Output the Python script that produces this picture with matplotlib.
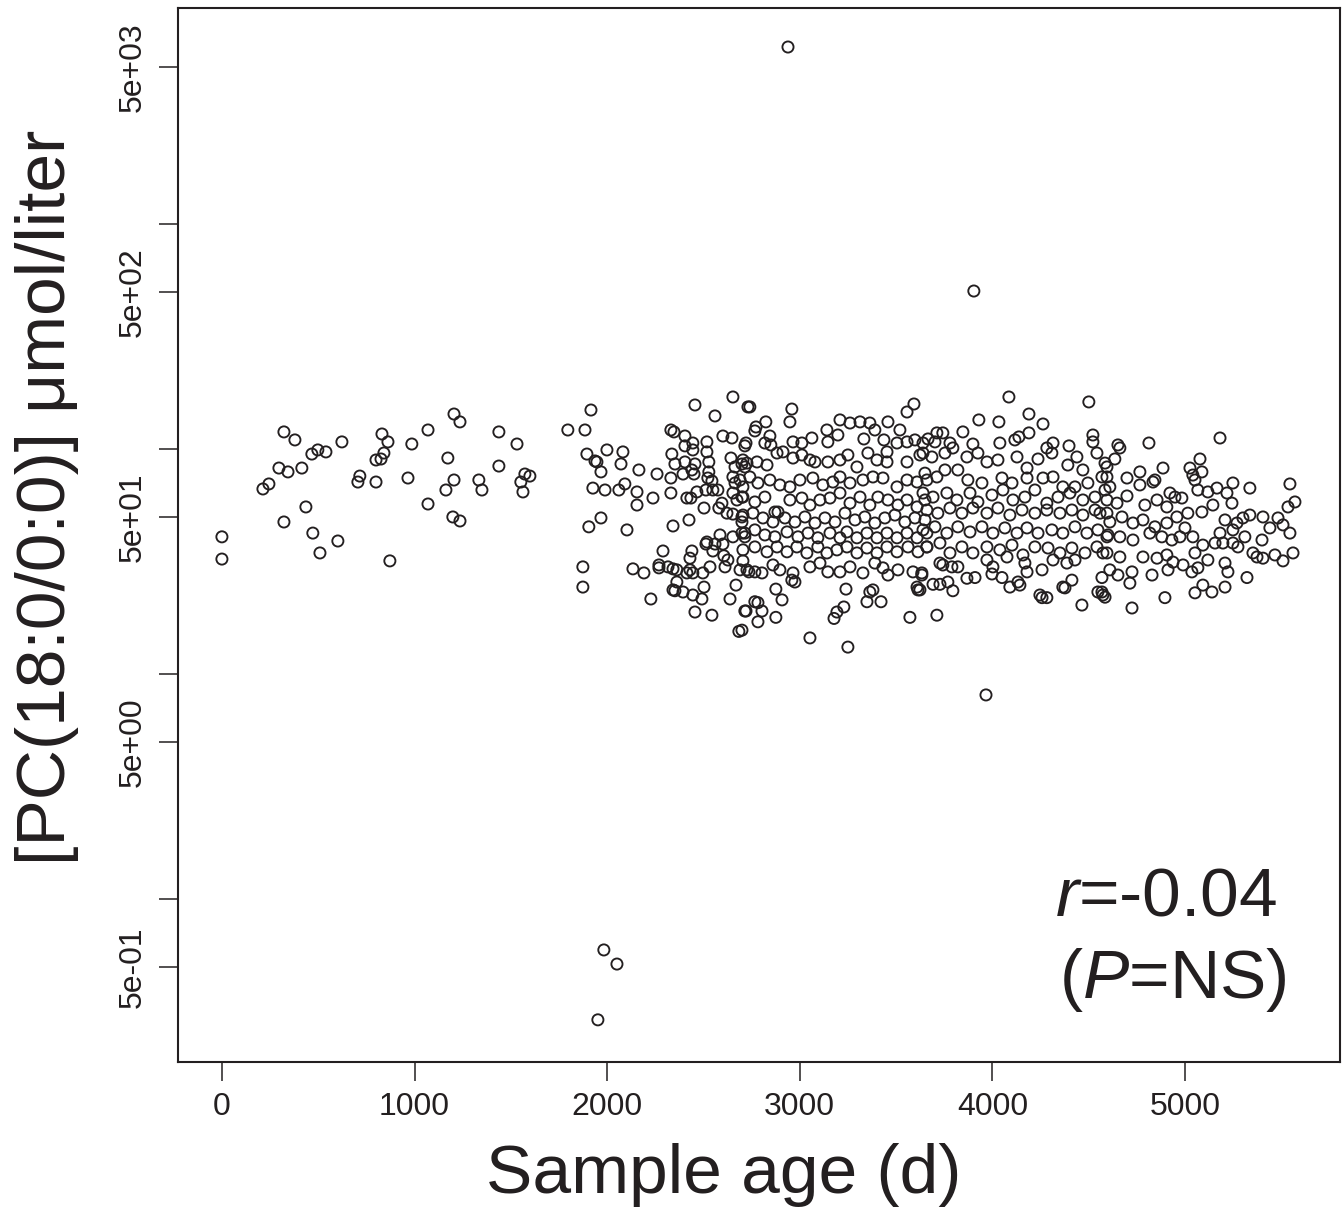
import matplotlib
matplotlib.use("Agg")
import matplotlib.pyplot as plt
import numpy as np

# sample age (days) and PC(18:0/0:0) concentration (umol/liter)
age_0_1800 = [
    0, 0, 213, 244, 296, 343, 322, 379, 322, 415,
    436, 467, 498, 540, 472, 509, 602, 623, 716, 706,
    800, 831, 862, 800, 826, 841, 872, 966, 986, 1070,
    1070, 1173, 1163, 1205, 1205, 1236, 1199, 1236, 1334, 1350,
    1438, 1438, 1532, 1573, 1599, 1552, 1563, 1796,
]
pc_0_1800 = [
    40.8, 32.5, 66.6, 70.1, 82.5, 79.3, 119.4, 110.0, 47.5, 82.5,
    55.4, 95.2, 99.3, 97.3, 42.4, 34.6, 39.1, 107.8, 76.0, 71.5,
    71.5, 116.9, 107.8, 89.6, 90.5, 96.2, 31.9, 74.5, 105.5, 121.8,
    57.1, 91.4, 65.9, 73.0, 143.4, 132.3, 50.0, 48.0, 73.0, 65.9,
    119.4, 84.2, 105.5, 77.6, 76.0, 71.5, 64.6, 121.8,
]

age_1800_2750 = [
    1916, 1885, 2456, 2560, 2653, 2731, 1895, 1937, 1947, 1968,
    1999, 2082, 2072, 2165, 2259, 1926, 1989, 2061, 2092, 2155,
    2155, 2238, 2331, 2331, 2336, 2331, 2347, 2404, 2404, 2445,
    2445, 2518, 2518, 2601, 2648, 2715, 2352, 2404, 2456, 2440,
    2394, 2451, 2528, 2528, 2523, 2544, 2549, 2575, 2513, 2466,
    2414, 2435, 2643, 2664, 2700, 2715, 2653, 2664, 2705, 2653,
    2700, 2674, 2596, 2580, 2622, 2653, 2705, 2700, 2503, 2425,
    2342, 1968, 1905, 2103, 2586, 2518, 2513, 2560, 2601, 2653,
    2700, 2715, 2290, 2440, 2430, 2549, 2606, 2627, 2612, 2705,
    2690, 2736, 1874, 1874, 2134, 2191, 2269, 2269, 2316, 2342,
    2362, 2414, 2430, 2445, 2497, 2534, 2362, 2342, 2352, 2394,
    2445, 2492, 2503, 2227, 2638, 2669, 2456, 2544, 2715, 2684,
]
pc_1800_2750 = [
    149.4, 121.8, 157.3, 140.6, 170.7, 154.2, 95.2, 88.7, 87.8, 79.3,
    99.3, 97.3, 86.0, 80.9, 77.6, 67.2, 65.9, 65.9, 70.1, 64.6,
    56.5, 60.7, 63.9, 74.5, 95.2, 121.8, 119.4, 114.5, 103.5, 106.6,
    99.3, 107.8, 97.3, 114.5, 112.2, 103.5, 86.0, 87.8, 86.0, 80.9,
    77.6, 77.6, 87.8, 79.3, 74.5, 72.3, 65.9, 65.9, 65.9, 64.6,
    60.7, 60.7, 91.4, 83.4, 86.0, 83.4, 75.3, 70.8, 68.0, 63.9,
    61.3, 59.5, 57.6, 54.8, 52.0, 51.5, 51.0, 47.5, 54.8, 48.5,
    45.6, 49.5, 45.2, 43.8, 41.6, 38.7, 37.9, 37.9, 37.9, 40.8,
    42.4, 40.8, 35.3, 35.3, 32.8, 35.3, 33.6, 32.2, 30.0, 31.9,
    29.1, 28.5, 30.0, 24.4, 29.4, 28.2, 30.6, 29.7, 30.0, 29.4,
    29.1, 28.2, 29.1, 28.2, 28.2, 30.0, 25.7, 23.7, 23.5, 23.2,
    22.5, 21.6, 24.4, 21.6, 21.6, 24.9, 18.9, 18.3, 19.1, 15.5,
]

age_2700_3700 = [
    2741, 2959, 2949, 2824, 2773, 2767, 2845, 2721, 2819, 2850,
    2965, 3011, 3063, 3141, 3146, 3198, 3209, 3261, 3313, 3364,
    3390, 3458, 3520, 3557, 3593, 3333, 3437, 3505, 3557, 3598,
    3640, 2705, 2726, 2778, 2830, 2882, 2913, 2965, 3011, 3053,
    3079, 3146, 3209, 3250, 3297, 3354, 3401, 3453, 3453, 3557,
    3624, 2690, 2741, 2783, 2845, 2897, 2949, 3001, 3068, 3120,
    3172, 3209, 3261, 3328, 3380, 3432, 3505, 3557, 3609, 3660,
    2705, 2767, 2819, 2871, 2887, 2949, 3011, 3053, 3105, 3157,
    3209, 3261, 3313, 3364, 3406, 3458, 3510, 3557, 3609, 3650,
    2700, 2757, 2809, 2861, 2923, 2975, 3027, 3079, 3131, 3183,
    3235, 3287, 3338, 3390, 3442, 3494, 3546, 3598, 3650, 2715,
    2767, 2819, 2871, 2934, 2991, 3043, 3094, 3157, 3209, 3245,
    3297, 3349, 3401, 3453, 3505, 3557, 3609, 3660, 2705, 2767,
    2830, 2882, 2934, 2985, 3037, 3094, 3141, 3193, 3245, 3297,
    3349, 3401, 3453, 3505, 3562, 3614, 3660, 2726, 2767, 2804,
    2861, 2897, 2965, 2959, 2975, 3053, 3105, 3146, 3209, 3261,
    3328, 3390, 3432, 3458, 3510, 3588, 3634, 2876, 2908, 2767,
    2783, 2721, 2804, 2783, 2876, 2700, 3053, 3250, 3240, 3229,
    3193, 3178, 3349, 3364, 3380, 3422, 3572, 3609, 3614,
]
pc_2700_3700 = [
    154.2, 150.9, 132.3, 132.3, 125.6, 120.6, 114.5, 106.6, 106.6, 104.5,
    107.8, 106.6, 112.2, 121.8, 107.8, 115.7, 135.0, 130.8, 132.3, 130.8,
    121.8, 132.3, 121.8, 146.4, 158.9, 111.1, 110.0, 106.6, 107.8, 110.0,
    106.6, 89.6, 86.8, 87.8, 85.1, 96.2, 97.3, 91.4, 94.3, 89.6,
    87.8, 87.8, 89.6, 94.3, 83.4, 96.2, 89.6, 97.3, 87.8, 87.8,
    94.3, 73.0, 75.3, 70.8, 73.0, 69.4, 68.0, 73.0, 74.5, 69.4,
    71.5, 75.3, 70.8, 73.0, 75.3, 74.5, 68.0, 73.0, 71.5, 73.0,
    61.3, 58.3, 61.3, 52.6, 52.6, 59.5, 60.7, 56.5, 59.5, 60.7,
    63.9, 57.6, 61.3, 56.5, 61.3, 59.5, 56.5, 59.5, 55.4, 59.5,
    50.0, 52.0, 49.5, 47.5, 49.5, 47.5, 50.0, 47.0, 49.5, 47.5,
    52.0, 48.5, 50.0, 47.0, 49.5, 51.0, 47.5, 49.5, 48.5, 42.4,
    43.8, 41.6, 40.8, 42.9, 40.8, 42.4, 40.4, 42.4, 40.4, 42.9,
    40.4, 42.4, 40.4, 42.4, 40.4, 42.4, 40.4, 42.4, 35.7, 36.8,
    35.0, 36.8, 35.0, 36.8, 34.6, 36.8, 34.6, 35.7, 36.8, 34.6,
    36.4, 34.6, 36.8, 35.0, 36.8, 35.0, 36.8, 29.1, 28.5, 28.2,
    30.6, 29.1, 28.2, 26.2, 25.7, 30.0, 31.2, 28.5, 28.5, 30.0,
    28.2, 31.2, 29.7, 27.6, 29.1, 28.5, 28.2, 23.9, 21.4, 21.0,
    20.8, 19.1, 19.1, 17.1, 17.9, 15.7, 14.5, 13.2, 23.9, 19.9,
    18.9, 17.7, 21.0, 23.2, 23.7, 21.0, 17.9, 24.4, 23.7,
]

age_3600_4600 = [
    4086, 4501, 3930, 4034, 4190, 4263, 3847, 3712, 3743, 3666,
    3702, 3780, 3795, 3899, 4039, 4117, 4138, 4190, 4315, 4283,
    4398, 4522, 4522, 4439, 3640, 3686, 3754, 3868, 3925, 3972,
    4029, 4128, 4180, 4237, 4309, 4392, 4470, 4543, 4595, 3650,
    3712, 3754, 3821, 3873, 3946, 4050, 4102, 4180, 4263, 4315,
    4366, 4429, 4496, 4569, 3640, 3692, 3764, 3816, 3884, 3925,
    3998, 4055, 4107, 4169, 4221, 4283, 4341, 4403, 4470, 4533,
    4585, 3660, 3717, 3780, 3842, 3899, 3972, 4029, 4091, 4154,
    4221, 4283, 4351, 4413, 4470, 4533, 4595, 3640, 3702, 3764,
    3821, 3884, 3946, 4003, 4065, 4128, 4180, 4237, 4309, 4366,
    4429, 4491, 4548, 4600, 3660, 3728, 3780, 3842, 3899, 3972,
    4039, 4102, 4159, 4221, 4289, 4351, 4413, 4481, 4543, 4595,
    3728, 3743, 3790, 3821, 3972, 4003, 4076, 4169, 4180, 4258,
    4315, 4387, 4429, 3634, 3692, 3728, 3769, 3795, 3868, 3910,
    3998, 4050, 4091, 4133, 4143, 4366, 4377, 4413, 4569, 4247,
    4258, 4283, 4465, 4548, 4574, 3712, 3624,
]
pc_3600_4600 = [
    170.7, 162.3, 135.0, 132.3, 143.4, 129.5, 119.4, 118.2, 118.2, 111.1,
    107.8, 106.6, 101.3, 105.5, 106.6, 110.0, 113.4, 118.2, 106.6, 101.3,
    103.5, 115.7, 107.8, 92.4, 96.2, 92.4, 96.2, 92.4, 96.2, 87.8,
    89.6, 92.4, 82.5, 90.5, 96.2, 85.1, 80.9, 96.2, 83.4, 78.3,
    75.3, 80.9, 80.9, 73.0, 70.8, 74.5, 70.8, 74.5, 74.5, 75.3,
    68.0, 68.0, 70.8, 75.3, 63.9, 61.3, 63.9, 59.5, 63.9, 58.3,
    62.6, 65.9, 59.5, 61.3, 65.9, 57.6, 61.3, 63.9, 59.5, 61.3,
    65.9, 53.7, 52.0, 54.8, 52.0, 54.8, 52.0, 54.8, 51.0, 53.7,
    52.0, 53.7, 52.0, 53.7, 51.0, 53.7, 52.0, 43.8, 45.2, 42.4,
    45.2, 42.9, 45.2, 42.4, 44.7, 42.4, 44.7, 42.4, 43.8, 42.4,
    45.2, 42.4, 43.8, 41.6, 36.8, 38.3, 34.6, 36.8, 34.6, 36.8,
    35.7, 37.5, 33.9, 36.8, 36.4, 34.6, 36.4, 34.6, 36.8, 34.6,
    31.2, 30.6, 30.0, 30.0, 32.2, 30.0, 33.2, 31.2, 28.5, 29.1,
    32.2, 31.2, 32.2, 27.6, 25.1, 25.1, 25.7, 23.5, 26.7, 26.9,
    27.9, 26.9, 24.4, 25.7, 24.9, 24.4, 24.2, 26.2, 26.9, 22.5,
    21.9, 21.9, 20.3, 23.2, 22.5, 18.3, 23.7,
]

age_4550_5600 = [
    5182, 4813, 4652, 4662, 4636, 4585, 5078, 4886, 4766, 5026,
    5088, 5041, 5052, 4844, 4834, 4699, 4595, 4610, 4766, 4699,
    4922, 4984, 5067, 5119, 5166, 5249, 5218, 5337, 5244, 5145,
    5088, 5015, 5545, 5535, 5571, 4595, 4647, 4792, 4855, 4906,
    4948, 4559, 4610, 4673, 4730, 4782, 4844, 4906, 4958, 5000,
    5041, 5208, 5270, 5301, 5337, 5405, 5483, 5509, 5441, 5545,
    5182, 5249, 5311, 4595, 4662, 4730, 4818, 4880, 4932, 4974,
    5093, 5156, 5197, 5249, 5275, 5400, 5353, 5374, 5405, 5467,
    5509, 5561, 4574, 4662, 4782, 4855, 4906, 4938, 5052, 5119,
    5208, 4610, 4652, 4725, 4829, 4912, 4990, 5036, 5067, 5223,
    5322, 4714, 5093, 5052, 5140, 5208, 4569, 4585, 4896, 4725,
]
pc_4550_5600 = [
    112.2, 106.6, 104.5, 101.3, 90.5, 86.8, 90.5, 82.5, 79.3, 82.5,
    79.3, 76.8, 73.0, 73.0, 71.5, 74.5, 75.3, 68.0, 69.4, 62.0,
    63.9, 60.7, 65.9, 64.6, 67.2, 70.8, 63.9, 67.2, 57.6, 56.5,
    52.6, 52.0, 70.1, 55.4, 58.3, 59.5, 57.6, 56.5, 59.5, 55.4,
    61.3, 52.0, 47.5, 50.0, 47.0, 48.5, 45.2, 47.0, 50.0, 44.7,
    40.8, 48.5, 47.0, 49.5, 51.0, 50.0, 49.5, 46.1, 44.7, 42.4,
    42.4, 43.8, 40.8, 40.8, 40.8, 39.5, 42.4, 40.8, 39.5, 40.8,
    37.5, 38.3, 38.3, 38.3, 36.8, 39.5, 34.6, 33.2, 32.8, 33.9,
    31.9, 34.6, 34.6, 33.2, 33.2, 32.8, 33.9, 31.5, 34.6, 32.2,
    31.2, 29.1, 27.6, 28.5, 27.6, 29.1, 30.6, 28.5, 29.7, 28.5,
    26.9, 25.4, 24.9, 23.0, 23.2, 24.4, 23.2, 22.0, 21.9, 19.7,
]

age_outliers = [2939, 3904, 3967, 1983, 2051, 1952]
pc_outliers = [6135, 505, 8.09, 0.595, 0.515, 0.291]

age = np.concatenate([age_0_1800, age_1800_2750, age_2700_3700,
                      age_3600_4600, age_4550_5600, age_outliers])
pc = np.concatenate([pc_0_1800, pc_1800_2750, pc_2700_3700,
                     pc_3600_4600, pc_4550_5600, pc_outliers])

x_ticks = [0, 1000, 2000, 3000, 4000, 5000]
y_ticks = [0.5, 5, 50, 500, 5000]
y_tick_labels = ["5e-01", "5e+00", "5e+01", "5e+02", "5e+03"]
y_minor = [1, 10, 100, 1000]

plt.rcParams["font.family"] = ["Liberation Sans", "DejaVu Sans"]
plt.rcParams["mathtext.fontset"] = "custom"
plt.rcParams["mathtext.rm"] = "Liberation Sans"
plt.rcParams["mathtext.it"] = "Liberation Sans:italic"

ink = "#231f20"
W, H = 1342, 1210
fig = plt.figure(figsize=(W / 100, H / 100), dpi=100)
ax = fig.add_axes([178 / W, 1 - 1062 / H, (1340 - 178) / W, (1062 - 8) / H])

ax.scatter(age, pc, s=64, facecolors="none", edgecolors=ink, linewidths=1.35)

ax.set_yscale("log")
ax.set_xlim(-228, 5805)
ax.set_ylim(0.189, 9146)

ax.set_xticks(x_ticks)
ax.set_yticks(y_ticks)
ax.set_yticklabels(y_tick_labels, rotation=90, va="center")
ax.set_yticks(y_minor, minor=True)
ax.yaxis.set_minor_formatter(matplotlib.ticker.NullFormatter())
ax.xaxis.set_minor_locator(matplotlib.ticker.NullLocator())

ax.tick_params(axis="both", which="both", direction="out", length=13.5,
               width=1.1, color=ink, labelcolor=ink, labelsize=23, pad=8)
for sp in ax.spines.values():
    sp.set_linewidth(1.5)
    sp.set_color(ink)

fig.text(724 / W, 1 - 1193 / H, "Sample age (d)", fontsize=50,
         ha="center", va="baseline", color=ink)
fig.text(47 / W, 1 - 497 / H, "[PC(18:0/0:0)] \u03bcmol/liter", fontsize=50,
         rotation=90, ha="center", va="center", color=ink)

fig.text(1277 / W, 1 - 915 / H, r"$r$=-0.04", fontsize=50,
         ha="right", va="baseline", color=ink)
fig.text(1287 / W, 1 - 998 / H, r"($P$=NS)", fontsize=50,
         ha="right", va="baseline", color=ink)

fig.savefig("out.png", dpi=100)
